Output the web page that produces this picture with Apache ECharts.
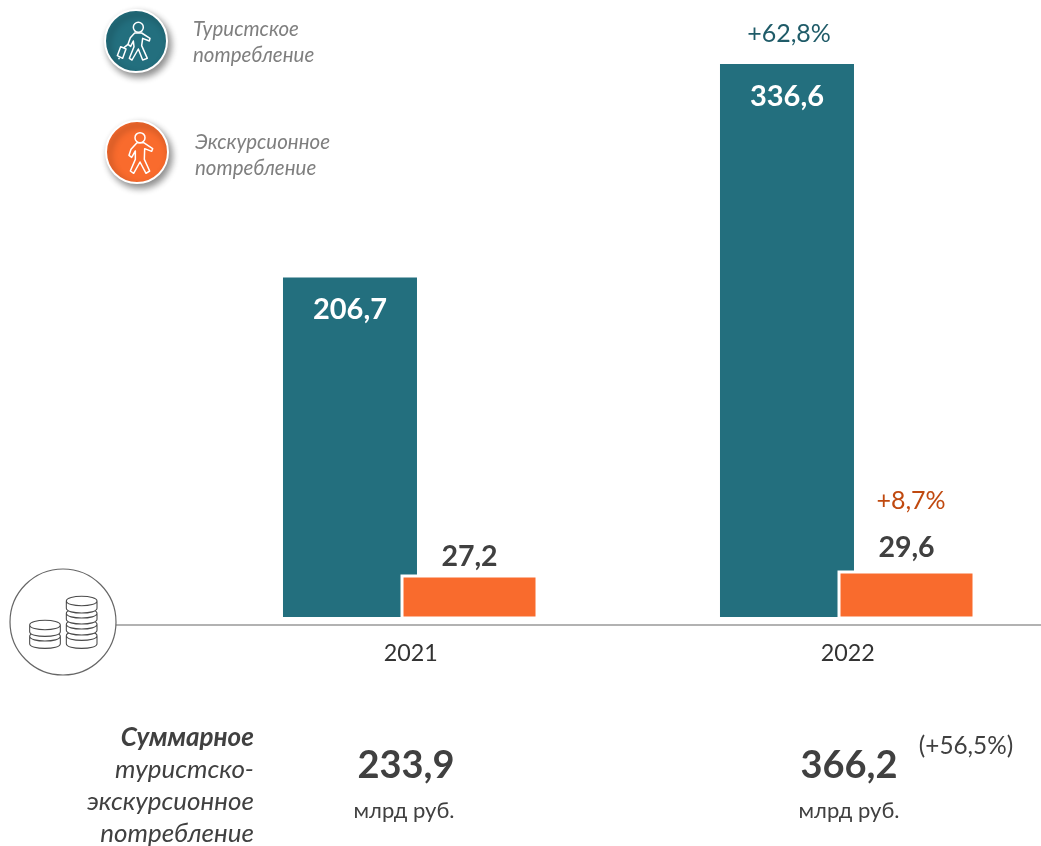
<!DOCTYPE html>
<html><head><meta charset="utf-8">
<style>html,body{margin:0;padding:0;background:#fff}#c{width:1041px;height:846px}</style>
<script src="https://cdn.jsdelivr.net/npm/echarts@6/dist/echarts.min.js"></script>
</head><body><div id="c"></div>
<script>
const years = ['2021', '2022'];
const touristValues = [206.7, 336.6];
const excursionValues = [27.2, 29.6];
const touristGrowth = '+62,8%';
const excursionGrowth = '+8,7%';
const totals = ['233,9', '366,2'];
const totalGrowth = '(+56,5%)';
const unit = 'млрд руб.';
const legendTourist = ['Туристское', 'потребление'];
const legendExcursion = ['Экскурсионное', 'потребление'];
const summaryLines = ['Суммарное', 'туристско-', 'экскурсионное', 'потребление'];

const TEAL = '#236f7e', ORANGE = '#f96b2d', DARK = '#404040', GREY = '#7f7f7f';
const FONT = 'Lato, "Open Sans", sans-serif';
const comma = p => String(p.value).replace('.', ',');

let shapeCount = 0;
function pathEl(d, style, z) {
  const name = 'iconShape' + (shapeCount++);
  echarts.graphic.registerShape(name, echarts.graphic.extendPath(d, {}));
  return { type: name, silent: true, z: z, style: style };
}
function txt(x, y, text, size, color, align, opts) {
  return { type: 'text', x, y, silent: true, z: 20, style: Object.assign({
    text, fontFamily: FONT, fontSize: size, fill: color, align: align || 'center', verticalAlign: 'middle'
  }, opts || {}) };
}
function coin(cx, cy, rx, ry, h) {
  return pathEl(
    `M${cx-rx},${cy} C${cx-rx},${cy-ry*1.35} ${cx+rx},${cy-ry*1.35} ${cx+rx},${cy} L${cx+rx},${cy+h} C${cx+rx},${cy+h+ry*1.35} ${cx-rx},${cy+h+ry*1.35} ${cx-rx},${cy+h} Z M${cx-rx},${cy} C${cx-rx},${cy+ry*1.35} ${cx+rx},${cy+ry*1.35} ${cx+rx},${cy}`,
    { fill: '#fff', stroke: '#4a4a4a', lineWidth: 3.2 }, 10);
}
function badge(cx, cy, color, bodyPath, headX, headY) {
  return [
    { type: 'circle', silent: true, z: 10, shape: { cx, cy, r: 31 },
      style: { fill: color, stroke: '#fff', lineWidth: 2, shadowColor: 'rgba(0,0,0,0.45)', shadowBlur: 7, shadowOffsetX: 3, shadowOffsetY: 4 } },
    { type: 'group', x: cx - 36, y: cy - 36, scaleX: 1/3, scaleY: 1/3, silent: true, z: 11, children: [
      { type: 'circle', silent: true, z: 11, shape: { cx: headX, cy: headY, r: 15 }, style: { fill: 'none', stroke: '#fff', lineWidth: 4.5 } },
      pathEl(bodyPath, { fill: 'none', stroke: '#fff', lineWidth: 4.5, lineJoin: 'round' }, 11)
    ]}
  ];
}
const walkerLuggage = 'M104,84 L91,98 L84,118 L92,124 L100,108 L102,125 L88,160 L96,165 L115,132 L128,165 L142,160 L125,122 L128,100 L148,108 L150,100 L125,84 Z M52,152 L62,125 L78,132 L68,160 Z M72,128 L84,118 M58,158 L56,163';
const walker = 'M108,80 L90,100 L84,118 L92,124 L103,105 L103,130 L88,165 L98,172 L117,138 L135,172 L146,165 L130,130 L131,98 L152,106 L155,98 L128,80 Z';

const graphics = [
  { type: 'line', silent: true, z: 5, shape: { x1: 116, y1: 625, x2: 1041, y2: 625 }, style: { stroke: '#666', lineWidth: 1.2 } },
  { type: 'circle', silent: true, z: 9, shape: { cx: 63, cy: 622, r: 53 }, style: { fill: '#fff', stroke: '#666', lineWidth: 1.2 } },
  { type: 'group', x: 5, y: 565, scaleX: 1/3, scaleY: 1/3, silent: true, z: 10, children: [
    coin(230, 212, 46, 14, 24), coin(230, 178, 46, 14, 18), coin(230, 145, 46, 14, 18), coin(230, 108, 46, 14, 22),
    coin(120, 214, 46, 14, 22), coin(120, 180, 46, 14, 20)
  ]},
  ...badge(136, 41, TEAL, walkerLuggage, 115, 67),
  ...badge(137, 152, ORANGE, walker, 117, 65),
  txt(193, 29, legendTourist[0], 20.5, GREY, 'left', { fontStyle: 'italic' }),
  txt(193, 55, legendTourist[1], 20.5, GREY, 'left', { fontStyle: 'italic' }),
  txt(195, 142, legendExcursion[0], 20.5, GREY, 'left', { fontStyle: 'italic' }),
  txt(195, 168, legendExcursion[1], 20.5, GREY, 'left', { fontStyle: 'italic' }),
  txt(789, 34, touristGrowth, 25, '#1f5b68'),
  txt(911, 501, excursionGrowth, 25, '#c0490f'),
  txt(254, 738, summaryLines[0], 26, DARK, 'right', { fontStyle: 'italic', fontWeight: 'bold' }),
  txt(254, 770, summaryLines[1], 26, DARK, 'right', { fontStyle: 'italic' }),
  txt(254, 802, summaryLines[2], 26, DARK, 'right', { fontStyle: 'italic' }),
  txt(254, 834, summaryLines[3], 26, DARK, 'right', { fontStyle: 'italic' }),
  txt(406, 766, totals[0], 38, DARK, 'center', { fontWeight: 'bold' }),
  txt(849, 766, totals[1], 38, DARK, 'center', { fontWeight: 'bold' }),
  txt(404, 811, unit, 22, DARK),
  txt(849, 811, unit, 22, DARK),
  txt(966, 746, totalGrowth, 24.3, DARK)
];

const chart = echarts.init(document.getElementById('c'), null, { renderer: 'canvas' });
chart.setOption({
  animation: false,
  backgroundColor: '#fff',
  textStyle: { fontFamily: FONT },
  grid: { left: 192.25, width: 874, top: 64, height: 555.5, outerBoundsMode: 'none' },
  xAxis: { type: 'category', data: years,
    axisLine: { show: false }, axisTick: { show: false },
    axisLabel: { color: '#333', fontSize: 23.3, fontFamily: FONT, margin: 22 } },
  yAxis: [
    { type: 'value', min: -1.52, max: 336.6, show: false },
    { type: 'value', min: 0, max: 335.8, show: false }
  ],
  series: [
    { type: 'bar', name: 'Туристское потребление', data: touristValues, yAxisIndex: 0, barWidth: 134, barGap: '-12.3%',
      itemStyle: { color: TEAL },
      label: { show: true, position: 'insideTop', distance: 18, formatter: comma, color: '#fff', fontFamily: FONT, fontWeight: 'bold', fontSize: 29 } },
    { type: 'bar', name: 'Экскурсионное потребление',
      data: excursionValues.map((v, i) => ({ value: v, label: { distance: [3, 8][i] } })),
      yAxisIndex: 1, barWidth: 138, barGap: '-12.3%',
      itemStyle: { color: ORANGE, borderColor: '#fff', borderWidth: 3 },
      label: { show: true, position: 'top', formatter: comma, color: DARK, fontFamily: FONT, fontWeight: 'bold', fontSize: 28.5 } }
  ],
  graphic: { elements: graphics }
});
</script></body></html>
